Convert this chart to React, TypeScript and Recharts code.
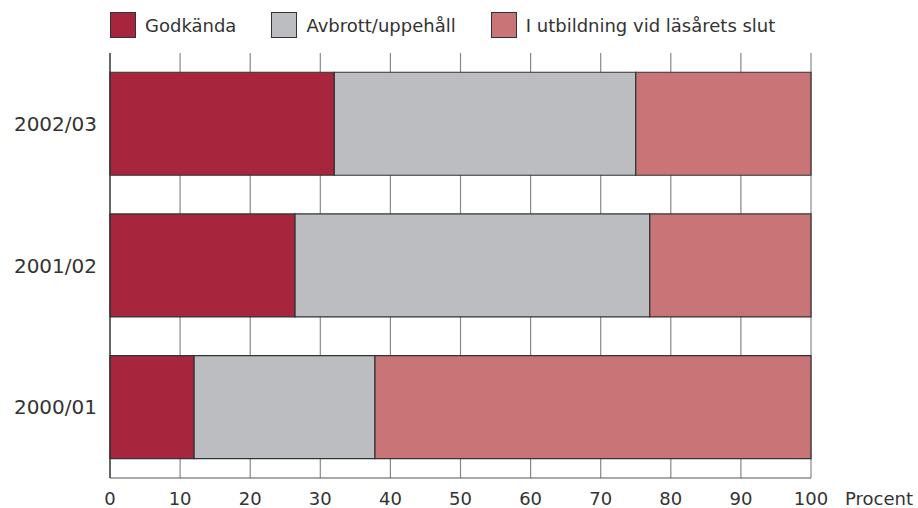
import { BarChart, Bar, XAxis, YAxis, CartesianGrid } from 'recharts';

const years = ['2002/03', '2001/02', '2000/01'];
const godkanda = [32, 26.4, 12];
const avbrott = [43, 50.6, 25.8];
const iUtbildning = [25, 23, 62.2];
const xTicks = [0, 10, 20, 30, 40, 50, 60, 70, 80, 90, 100];

const series = [
  { key: 'godkanda', name: 'Godkända', color: '#A8263D' },
  { key: 'avbrott', name: 'Avbrott/uppehåll', color: '#BCBDC1' },
  { key: 'iUtbildning', name: 'I utbildning vid läsårets slut', color: '#C97577' },
];

const data = years.map((year, i) => ({
  year,
  godkanda: godkanda[i],
  avbrott: avbrott[i],
  iUtbildning: iUtbildning[i],
}));

const font = '"DejaVu Sans", sans-serif';
const xTickStyle = { fontFamily: font, fontSize: 18, fill: '#333' };
const yTickStyle = { fontFamily: font, fontSize: 20, fill: '#333' };

const ProcentLabel = ({ viewBox }: any) => {
  if (!viewBox) return null;
  return (
    <text
      x={viewBox.x + viewBox.width + 34}
      y={viewBox.y + 14}
      dy="0.71em"
      style={xTickStyle}
    >
      Procent
    </text>
  );
};

// legend sits above the plot, drawn as plain html
function TopLegend() {
  return (
    <div
      style={{
        position: 'absolute',
        left: 110,
        top: 12,
        display: 'flex',
        alignItems: 'center',
        fontFamily: font,
        fontSize: 18,
        color: '#333',
      }}
    >
      {series.map((s) => (
        <div key={s.key} style={{ display: 'flex', alignItems: 'center', marginRight: 35 }}>
          <div
            style={{
              width: 24,
              height: 24,
              background: s.color,
              border: '1px solid #333',
              marginRight: 9,
            }}
          />
          <span>{s.name}</span>
        </div>
      ))}
    </div>
  );
}

export default function App() {
  return (
    <div style={{ position: 'absolute', left: 0, top: 0, width: 918, height: 508, background: '#fff' }}>
      <TopLegend />
      <BarChart
        width={918}
        height={508}
        data={data}
        layout="vertical"
        barCategoryGap="13.6%"
        margin={{ top: 53, right: 107, left: 0, bottom: 0 }}
      >
        <CartesianGrid horizontal={false} stroke="#888" strokeWidth={1.2} />
        <XAxis
          type="number"
          domain={[0, 100]}
          ticks={xTicks}
          interval={0}
          height={30}
          tickLine={false}
          tickSize={8}
          tickMargin={6}
          axisLine={{ stroke: '#555', strokeWidth: 1.2 }}
          tick={xTickStyle}
          label={<ProcentLabel />}
        />
        <YAxis
          type="category"
          dataKey="year"
          width={110}
          tickLine={false}
          tickSize={8}
          tickMargin={5}
          axisLine={{ stroke: '#333', strokeWidth: 1.2 }}
          tick={yTickStyle}
        />
        {series.map((s) => (
          <Bar
            key={s.key}
            dataKey={s.key}
            name={s.name}
            stackId="a"
            fill={s.color}
            stroke="#333"
            strokeWidth={1.2}
            isAnimationActive={false}
          />
        ))}
      </BarChart>
    </div>
  );
}
